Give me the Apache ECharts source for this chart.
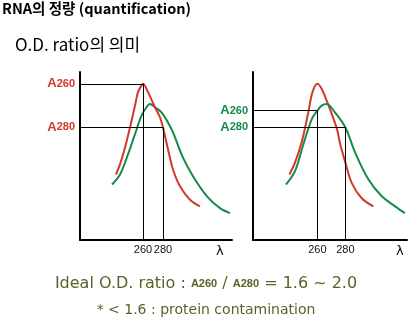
<!DOCTYPE html>
<html>
<head>
<meta charset="utf-8">
<script src="https://cdn.jsdelivr.net/npm/echarts@6/dist/echarts.min.js"></script>
<style>
  html, body { margin: 0; padding: 0; background: #fff; }
  #chart { width: 412px; height: 323px; }
</style>
</head>
<body>
<div id="chart"></div>
<script>
// Absorbance spectra (wavelength in nm, absorbance in arbitrary units)
// Left panel: pure RNA sample
const leftRedNm   = [233, 237, 242, 247, 252, 255, 258.5, 260, 265, 272, 277, 280, 285, 290, 297, 307, 317];
const leftRedAbs  = [0.39, 0.45, 0.55, 0.67, 0.80, 0.88, 0.92, 0.93, 0.88, 0.79, 0.73, 0.67, 0.54, 0.42, 0.32, 0.24, 0.20];
const leftGreenNm  = [229, 237, 245, 252, 258.5, 263.5, 267, 272, 278.5, 285, 290, 300, 310, 324, 337, 347];
const leftGreenAbs = [0.33, 0.39, 0.51, 0.63, 0.74, 0.79, 0.81, 0.79, 0.76, 0.70, 0.64, 0.49, 0.38, 0.26, 0.19, 0.16];

// Right panel: sample with protein
const rightRedNm   = [240, 244, 249, 253.5, 256.5, 260, 263, 268, 274, 276, 280, 284.5, 291.5, 300];
const rightRedAbs  = [0.39, 0.46, 0.59, 0.76, 0.88, 0.93, 0.90, 0.80, 0.66, 0.58, 0.46, 0.34, 0.25, 0.20];
const rightGreenNm  = [237.5, 244, 250, 256, 260, 263, 266.5, 272.5, 280, 287, 296.5, 306, 315.5, 322.5];
const rightGreenAbs = [0.33, 0.41, 0.57, 0.72, 0.77, 0.80, 0.81, 0.76, 0.67, 0.52, 0.36, 0.26, 0.20, 0.16];

// Wavelength ticks
const tickNm = [260, 280];
const tickLabels = ['260', '280'];

const RED = '#d2382c';
const GREEN = '#17894a';

const zip = (xs, ys) => xs.map((x, i) => [x, ys[i]]);
const absAt = (xs, ys, nm) => ys[xs.indexOf(nm)];

const leftA260 = absAt(leftRedNm, leftRedAbs, tickNm[0]);
const leftA280 = absAt(leftRedNm, leftRedAbs, tickNm[1]);
const rightA260 = absAt(rightGreenNm, rightGreenAbs, tickNm[0]);
const rightA280 = absAt(rightGreenNm, rightGreenAbs, tickNm[1]);

const chart = echarts.init(document.getElementById('chart'), null, { renderer: 'canvas' });

function xAxisFor(gridIndex, min, max, nameGap) {
  return {
    gridIndex, type: 'value', min, max,
    axisLine: { show: true, onZero: false, lineStyle: { color: '#000', width: 2 } },
    axisTick: { show: false },
    splitLine: { show: false },
    axisLabel: {
      customValues: tickNm,
      formatter: v => tickLabels[tickNm.indexOf(v)],
      hideOverlap: false,
      color: '#111', fontSize: 11, margin: 4,
      fontFamily: 'Liberation Sans'
    },
    name: 'λ', nameLocation: 'end', nameGap,
    nameTextStyle: { color: '#111', fontSize: 13, verticalAlign: 'top', padding: [5, 0, 0, 0], fontFamily: 'DejaVu Sans' }
  };
}

function yAxisFor(gridIndex, values, color) {
  return {
    gridIndex, type: 'value', min: 0, max: 1,
    axisLine: { show: true, lineStyle: { color: '#000', width: 2 } },
    axisTick: { show: false },
    splitLine: { show: false },
    axisLabel: {
      customValues: values,
      hideOverlap: false,
      formatter: v => (v === values[0] ? '{a|A}{n|260}' : '{a|A}{n|280}'),
      margin: 5,
      rich: {
        a: { color, fontSize: 13, fontWeight: 'bold', fontFamily: 'Liberation Sans' },
        n: { color, fontSize: 11, fontWeight: 'bold', fontFamily: 'Liberation Sans' }
      }
    }
  };
}

// Drop lines from each curve point at 260/280 nm to both axes
function guideLines(xMin, nm, abs) {
  return [
    [{ coord: [xMin, abs] }, { coord: [nm, abs] }],
    [{ coord: [nm, abs] }, { coord: [nm, 0] }]
  ];
}

function markLines(xMin, a260, a280) {
  return {
    silent: true, symbol: 'none', animation: false,
    label: { show: false },
    lineStyle: { color: '#000', width: 1, type: 'solid' },
    emphasis: { disabled: true },
    data: guideLines(xMin, tickNm[0], a260).concat(guideLines(xMin, tickNm[1], a280))
  };
}

function curve(xi, data, color, extra) {
  return Object.assign({
    type: 'line', xAxisIndex: xi, yAxisIndex: xi, data,
    smooth: 0.35, showSymbol: false, symbol: 'none',
    lineStyle: { color, width: 2 }, itemStyle: { color }
  }, extra || {});
}

const LEFT_MIN = 197, LEFT_MAX = 349;
const RIGHT_MIN = 214, RIGHT_MAX = 324;

chart.setOption({
  animation: false,
  backgroundColor: '#fff',
  grid: [
    { left: 80, top: 72, width: 152, height: 168 },
    { left: 253, top: 72, width: 154, height: 168 }
  ],
  xAxis: [xAxisFor(0, LEFT_MIN, LEFT_MAX, -16), xAxisFor(1, RIGHT_MIN, RIGHT_MAX, -11)],
  yAxis: [yAxisFor(0, [leftA260, leftA280], RED), yAxisFor(1, [rightA260, rightA280], GREEN)],
  series: [
    curve(0, zip(leftGreenNm, leftGreenAbs), GREEN),
    curve(0, zip(leftRedNm, leftRedAbs), RED, { markLine: markLines(LEFT_MIN, leftA260, leftA280) }),
    curve(1, zip(rightRedNm, rightRedAbs), RED),
    curve(1, zip(rightGreenNm, rightGreenAbs), GREEN, { markLine: markLines(RIGHT_MIN, rightA260, rightA280) })
  ],
  graphic: [
    {
      type: 'text', left: 2, top: 1,
      style: { text: 'RNA의 정량 (quantification)', fill: '#000', font: 'bold 14.5px "Noto Sans CJK KR"' }
    },
    {
      type: 'text', left: 15, top: 36,
      style: { text: 'O.D. ratio의 의미', fill: '#000', font: '17px "Noto Sans CJK KR"' }
    },
    {
      type: 'text', left: 'center', top: 276,
      style: {
        text: '{t|Ideal O.D. ratio : }{s|A260}{t| / }{s|A280}{t| = 1.6 ~ 2.0}',
        rich: {
          t: { fill: '#5f5f2a', fontSize: 16, fontFamily: 'DejaVu Sans' },
          s: { fill: '#5f5f2a', fontSize: 11, fontWeight: 'bold', fontFamily: 'Liberation Sans' }
        }
      }
    },
    {
      type: 'text', left: 'center', top: 303,
      style: { text: '* < 1.6 : protein contamination', fill: '#5f5f2a', font: '14px "DejaVu Sans"' }
    }
  ]
});
</script>
</body>
</html>
